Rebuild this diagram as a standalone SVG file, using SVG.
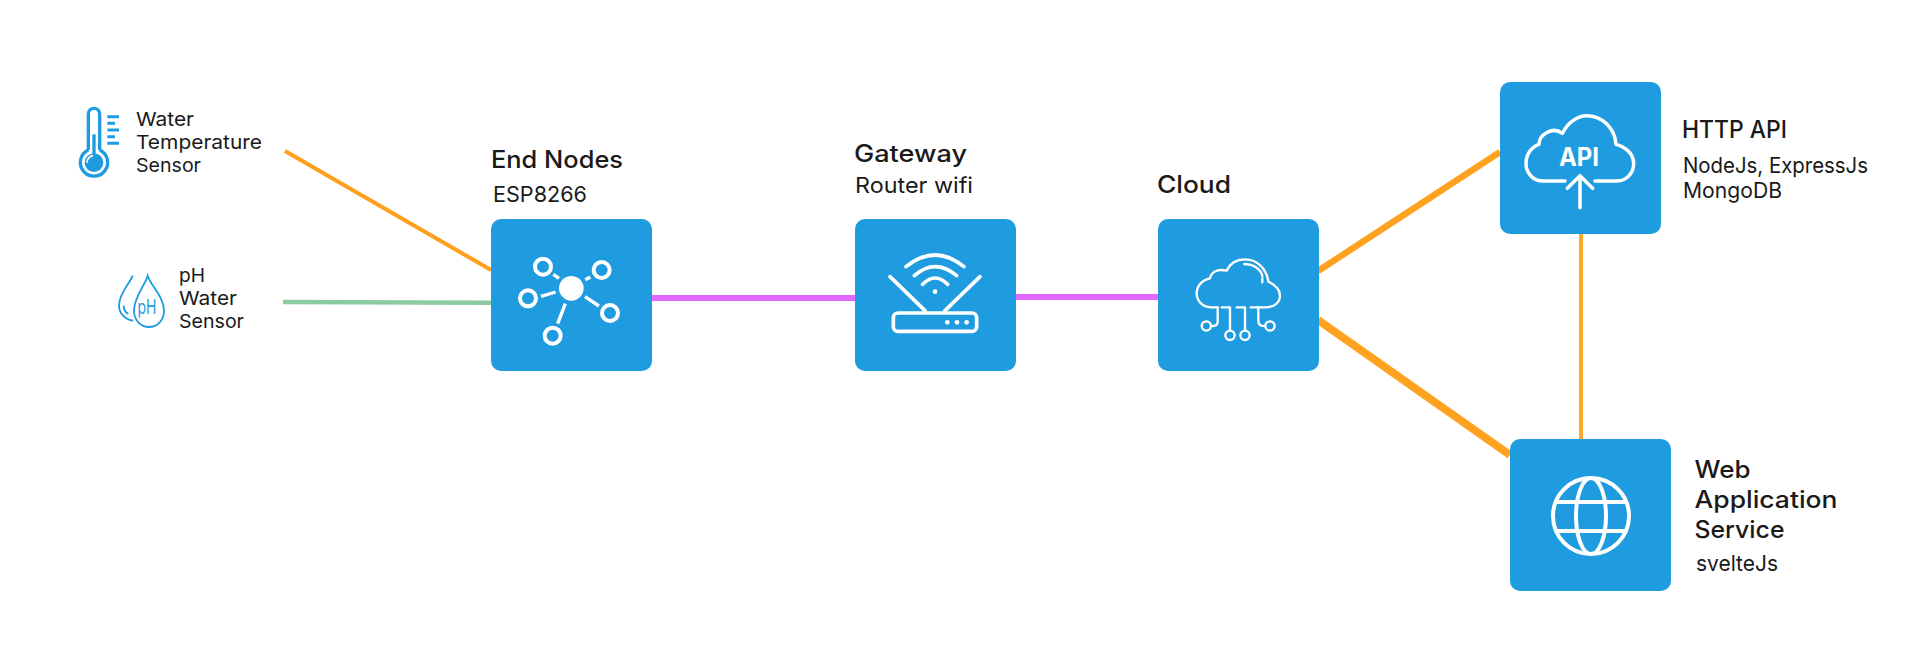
<svg xmlns="http://www.w3.org/2000/svg" width="1920" height="652" viewBox="0 0 1920 652">
<style>
text{font-family:"Inter","Liberation Sans",sans-serif;fill:#1a1a1a}
.h{font-size:24px;font-weight:450}
.s{font-size:22px;font-weight:400}
.l{font-size:19px;font-weight:400}
.box{fill:#1f9ce0}
.w{fill:none;stroke:#fff;stroke-linecap:round;stroke-linejoin:round}
.b{fill:none;stroke:#1f9ce0;stroke-linecap:butt}
.c{fill:none}
</style>
<rect width="1920" height="652" fill="#fff"/>
<g id="connectors">
<line class="c" x1="285" y1="151" x2="491" y2="270" stroke="#ff9f1c" stroke-width="4"/>
<line class="c" x1="283" y1="302" x2="491" y2="302.7" stroke="#8ccba0" stroke-width="4.5"/>
<line class="c" x1="651" y1="298" x2="855" y2="298" stroke="#e169ff" stroke-width="6"/>
<line class="c" x1="1016" y1="297" x2="1158" y2="297" stroke="#e169ff" stroke-width="6"/>
<line class="c" x1="1318" y1="271" x2="1500" y2="152" stroke="#ffa220" stroke-width="6.500"/>
<line class="c" x1="1318" y1="320" x2="1510" y2="455" stroke="#ffa220" stroke-width="8"/>
<line class="c" x1="1581" y1="233" x2="1581" y2="439" stroke="#ffa726" stroke-width="4"/>
</g>
<g id="temp-sensor">
<g transform="translate(70 100) scale(.3333)">
<path class="b" stroke-width="10" d="M55 150V42a17 17 0 0 1 34 0V150"/>
<path class="b" stroke-width="10" d="M55 150A41 41 0 1 0 89 150"/>
<circle cx="72" cy="188" r="28" fill="#1f9ce0"/>
<rect x="67" y="103" width="10" height="70" fill="#1f9ce0"/>
<path fill="none" stroke="#fff" stroke-width="5" d="M51 188a21 21 0 0 1 18-21"/>
<path class="b" stroke-width="9" d="M112 50H147M112 70H135M112 90H147M112 110H135M112 130H147"/>
</g>
<text class="l" x="136" y="126" textLength="58" lengthAdjust="spacingAndGlyphs">Water</text>
<text class="l" x="136" y="149" textLength="126" lengthAdjust="spacingAndGlyphs">Temperature</text>
<text class="l" x="136" y="172" textLength="65" lengthAdjust="spacingAndGlyphs">Sensor</text>
</g>
<g id="ph-sensor">
<g transform="translate(110 265) scale(.3333)">
<path class="b" stroke-width="5.500" d="M68 32C60 55 27 85 27 122C27 145 45 163 70 167"/>
<path class="b" stroke-width="5.500" d="M41 122C41 132 47 142 55 147"/>
<path class="b" stroke-width="5.500" d="M113 32C105 62 72 95 72 137C72 165 92 186 117 186C143 186 162 165 162 137C162 95 122 62 113 32Z"/>
</g>
<text x="137.500" y="314" style="font-size:20px;fill:#1f9ce0" textLength="19" lengthAdjust="spacingAndGlyphs">pH</text>
<text class="l" x="179" y="282" textLength="26" lengthAdjust="spacingAndGlyphs">pH</text>
<text class="l" x="179" y="305" textLength="58" lengthAdjust="spacingAndGlyphs">Water</text>
<text class="l" x="179" y="328" textLength="65" lengthAdjust="spacingAndGlyphs">Sensor</text>
</g>
<g id="end-nodes">
<rect class="box" x="491" y="219" width="161" height="152" rx="10"/>
<g transform="translate(510 245) scale(.3333)">
<circle cx="184" cy="130" r="37" fill="#fff"/>
<g class="w" stroke-width="12">
<circle cx="99" cy="65" r="24"/><circle cx="275" cy="75" r="24"/><circle cx="54" cy="160" r="24"/><circle cx="300" cy="204" r="24"/><circle cx="128" cy="272" r="24"/>
</g>
<path class="w" stroke-width="10" style="stroke-linecap:butt" d="M130 88L147 100M226 104L241 96M93 154L137 141M225 155L267 183M166 176L143 236"/>
</g>
<text class="h" x="491" y="168" textLength="132" lengthAdjust="spacingAndGlyphs">End Nodes</text>
<text class="s" x="493" y="202" textLength="94" lengthAdjust="spacingAndGlyphs">ESP8266</text>
</g>
<g id="gateway">
<rect class="box" x="855" y="219" width="161" height="152" rx="10"/>
<g transform="translate(880 245) scale(.3333)">
<g class="w" stroke-width="11">
<path d="M78 65Q165 -5 252 65M103 92Q165 38 230 92M128 118Q165 80 203 118M30 95L135 197M300 95L195 197"/>
<rect x="40" y="204" width="250" height="55" rx="14"/>
</g>
<circle cx="165" cy="140" r="7" fill="#fff"/><circle cx="202" cy="232" r="7" fill="#fff"/><circle cx="231" cy="232" r="7" fill="#fff"/><circle cx="260" cy="232" r="7" fill="#fff"/>
</g>
<text class="h" x="854" y="162" textLength="113" lengthAdjust="spacingAndGlyphs">Gateway</text>
<text class="s" x="855" y="193" textLength="118" lengthAdjust="spacingAndGlyphs">Router wifi</text>
</g>
<g id="cloud">
<rect class="box" x="1158" y="219" width="161" height="152" rx="10"/>
<g transform="translate(1185 250) scale(.3333)">
<g class="w" stroke-width="7">
<path d="M98 172H78C50 172 35 150 35 130C35 105 55 88 75 85C78 68 95 55 125 62C135 40 155 28 180 28C220 28 245 60 250 95C272 105 285 118 285 138C285 155 270 172 240 172H218"/>
<path d="M98 172V215Q98 228 80 228M110 172H135V242M155 172H180V242M197 172H220V212Q220 228 238 228M178 42C205 42 228 58 232 78M232 85V97"/>
<circle cx="64" cy="228" r="14"/><circle cx="135" cy="256" r="14"/><circle cx="180" cy="256" r="14"/><circle cx="255" cy="228" r="14"/>
</g>
</g>
<text class="h" x="1157" y="193" textLength="74" lengthAdjust="spacingAndGlyphs">Cloud</text>
</g>
<g id="http-api">
<rect class="box" x="1500" y="82" width="161" height="152" rx="10"/>
<g transform="translate(1515 105) scale(.3333)">
<path class="w" stroke-width="10.500" d="M150 228H85C55 228 33 205 33 175C33 148 50 125 72 118C72 90 112 62 142 85C160 50 190 32 215 32C262 32 300 70 303 118C330 125 356 145 356 175C356 205 335 228 305 228H240M195 215V308M157 250L195 212L233 250"/>
</g>
<text x="1579" y="166" text-anchor="middle" style="font-size:25px;font-weight:700;fill:#fff" textLength="40" lengthAdjust="spacingAndGlyphs">API</text>
<text class="h" x="1682" y="138" textLength="105" lengthAdjust="spacingAndGlyphs">HTTP API</text>
<text class="s" x="1683" y="173" textLength="185" lengthAdjust="spacingAndGlyphs">NodeJs, ExpressJs</text>
<text class="s" x="1683" y="198" textLength="99" lengthAdjust="spacingAndGlyphs">MongoDB</text>
</g>
<g id="web-app">
<rect class="box" x="1510" y="439" width="161" height="152" rx="10"/>
<g class="w" stroke-width="4">
<circle cx="1591" cy="516" r="38"/>
<ellipse cx="1591" cy="516" rx="15" ry="38"/>
<path d="M1556 502H1626M1556 531H1626"/>
</g>
<text class="h" x="1694.500" y="478" textLength="56" lengthAdjust="spacingAndGlyphs">Web</text>
<text class="h" x="1694.500" y="508" textLength="143" lengthAdjust="spacingAndGlyphs">Application</text>
<text class="h" x="1694.500" y="538" textLength="90" lengthAdjust="spacingAndGlyphs">Service</text>
<text class="s" x="1696" y="571" textLength="82" lengthAdjust="spacingAndGlyphs">svelteJs</text>
</g>
</svg>
